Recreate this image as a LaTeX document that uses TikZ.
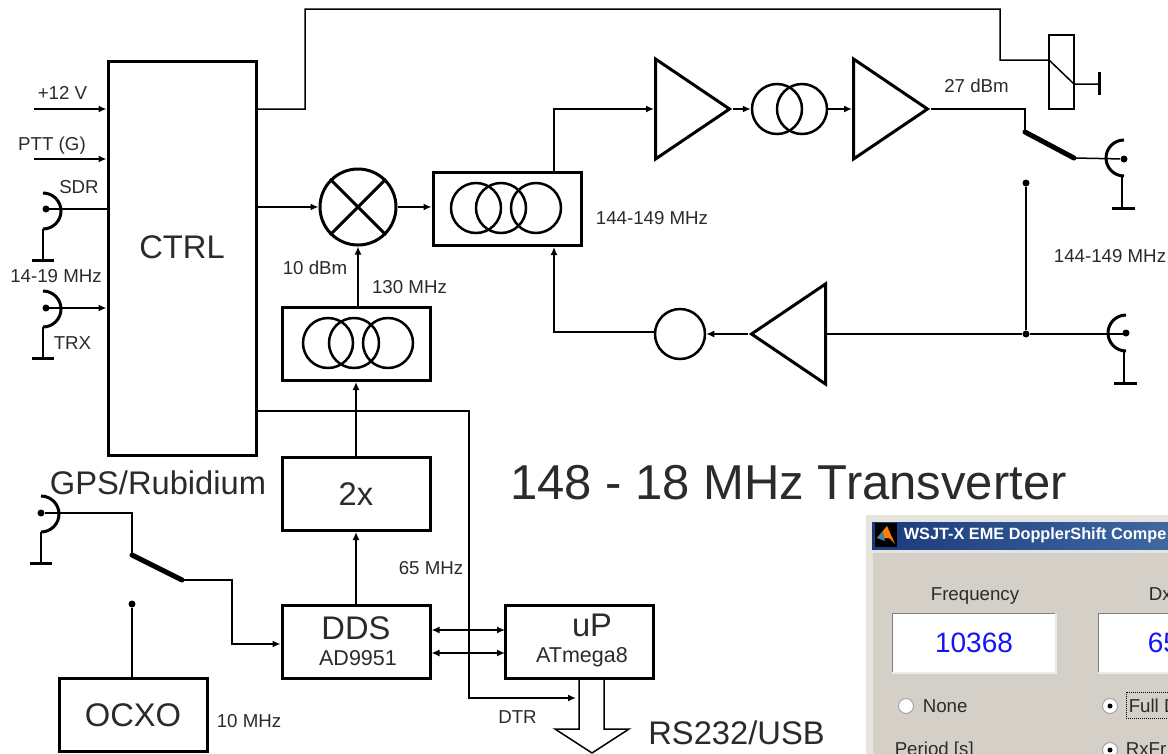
\documentclass[tikz,border=0pt]{standalone}
\usepackage{fontspec}
\setmainfont{Liberation Sans}
\usetikzlibrary{arrows.meta,calc,shapes.geometric}

\definecolor{txt}{HTML}{2B2B2B}
\definecolor{winbody}{HTML}{D4D0C8}
\definecolor{winedge}{HTML}{E6E4DF}
\definecolor{numblue}{HTML}{1414F5}
\definecolor{barl}{HTML}{1B3A7C}
\definecolor{barr}{HTML}{3F68A3}

\tikzset{
  box/.style={draw, line width=3pt, inner sep=0pt, text=txt, minimum width=148pt, minimum height=73pt},
  ring/.style={draw, circle, line width=2.5pt, inner sep=0pt, minimum size=50pt},
  amp/.style={draw, isosceles triangle, isosceles triangle stretches, line width=3pt, inner sep=0pt,
    minimum width=100pt, minimum height=74pt},
  dot/.style={fill, circle, inner sep=0pt, minimum size=7pt},
  lbl/.style={inner sep=0pt, text=txt, font=\fontsize{18.7}{20}\selectfont, text height=13.4pt, text depth=0pt},
  med/.style={inner sep=0pt, text=txt, font=\fontsize{21.5}{23}\selectfont, text height=15.4pt, text depth=0pt},
  big/.style={inner sep=0pt, text=txt, font=\fontsize{32.7}{34}\selectfont, text height=23.4pt, text depth=0pt},
  heavy/.style={-, line width=5pt, line cap=round},
  edit/.style={fill=white, inner sep=0pt, minimum width=162pt, minimum height=58pt, text=numblue,
    font=\fontsize{28}{30}\selectfont},
  radio/.style={circle, fill=white, draw=gray!70, line width=1pt, inner sep=0pt, minimum size=15pt},
  jackl/.pic={\draw[-, line width=3pt] (0,-18) arc[start angle=90, end angle=-90, radius=18pt];
    \draw[-] (0,18) -- (0,49);
    \draw[-, line width=3pt] (-11,49) -- (11,49);},
  jackr/.pic={\draw[-, line width=3pt] (0,-18) arc[start angle=90, end angle=270, radius=18pt];
    \draw[-] (-2,18) -- (-2,50);
    \draw[-, line width=3pt] (-12,50) -- (11,50);},
}

\begin{document}
\begin{tikzpicture}[->, >={Latex[length=8pt,width=7pt]}, x=1pt, y=-1pt, line width=1.5pt]
  \useasboundingbox (0,0) rectangle (1168,753);
  \clip (0,0) rectangle (1168,753);
  \fill[white] (0,0) rectangle (1168,753);

  \node[box,minimum height=394pt] (ctrl) at (182,258) {};
  \node[draw,circle,line width=3pt,inner sep=0pt,minimum size=76pt] (mix) [right of=ctrl, node distance=176pt, yshift=51pt] {};
  \node[box]  (filtb) [right of=mix, node distance=149pt, yshift=-2pt] {};
  \node[box]  (filta) [below of=mix, node distance=137pt, xshift=-2pt] {};
  \node[box]  (dbl)   [below of=filta, node distance=150pt] {\fontsize{32.7}{34}\selectfont 2x};
  \node[box]  (dds)   [below of=dbl, node distance=148pt]   {};
  \node[box]  (up)    [right of=dds, node distance=223pt]   {};
  \node[box]  (ocxo)  at (133,715)                          {\fontsize{32.7}{34}\selectfont OCXO};

  \node[ring] (fb1) at (476,208)                        {};
  \node[ring] (fb2) [right of=fb1, node distance=25pt]  {};
  \node[ring] (fb3) [right of=fb2, node distance=35pt]  {};
  \node[ring] (fa1) at (328,343)                        {};
  \node[ring] (fa2) [right of=fa1, node distance=26pt]  {};
  \node[ring] (fa3) [right of=fa2, node distance=34pt]  {};
  \node[ring] (tx1) at (777,109)                        {};
  \node[ring] (tx2) [right of=tx1, node distance=25pt]  {};
  \node[ring] (rx1) at (680,334)                        {};

  \node[amp,anchor=lower side] (amp1) at (654,109) {};
  \node[amp,anchor=lower side] (amp2) at (852,109) {};
  \node[amp,anchor=lower side,shape border rotate=180] (lna) at (827,334) {};

  \node[draw,line width=1.5pt,inner sep=0pt,minimum width=25pt,minimum height=74pt] (relay) at (1061.5,72) {};

  \node[dot] (jant) at (1124,159) {};
  \node[dot] (jrx)  at (1126,333) {};
  \node[dot] (jsdr) at (46,209)   {};
  \node[dot] (jtrx) at (46,308)   {};
  \node[dot] (jgps) at (41,513)   {};
  \node[dot] (fix)  at (1026,183) {};
  \node[dot] (jun)  at (1026,334) {};
  \node[dot] (ref)  at (132,604)  {};

  \pic at (1124,158) {jackr};
  \pic at (1126,333) {jackr};
  \pic at (43,211)   {jackl};
  \pic at (43,309)   {jackl};
  \pic at (41,514)   {jackl};

  \coordinate (pwr)  at (34,109);
  \coordinate (ptt)  at (34,159);
  \coordinate (tap)  at (554,332);
  \coordinate (tl)   at (305,9);
  \coordinate (tr)   at (1000,60);
  \coordinate (rc)   at (1049,60);
  \coordinate (rd)   at (1074,84);
  \coordinate (rg)   at (1099,84);
  \coordinate (swa)  at (1025,132);
  \coordinate (swb)  at (1074,158);
  \coordinate (gsa)  at (132,555);
  \coordinate (gsb)  at (182,580);
  \coordinate (gc)   at (232,644);
  \coordinate (dtra) at (257,411);
  \coordinate (dtrb) at (469,698);
  \coordinate (dtrc) at (576,698);
  \coordinate (busa) at (505,630);
  \coordinate (busb) at (505,653);
  \coordinate (busl) at (579,729);
  \coordinate (busr) at (604,729);
  \coordinate (tipl) at (555,729);
  \coordinate (tipr) at (629,729);
  \coordinate (tip)  at (592,753);

  \path (pwr)      edge (pwr -| ctrl.west)
        (ptt)      edge (ptt -| ctrl.west)
        (jtrx)     edge (jtrx -| ctrl.west)
        (jsdr)     edge [-] (jsdr -| ctrl.west)
        ([xshift=14pt]jsdr) edge ([xshift=6pt]jsdr)
        ([xshift=14pt]jtrx) edge ([xshift=6pt]jtrx)
        (ctrl.east |- mix) edge (mix.west)
        (mix.east) edge (mix.east -| filtb.west)
        (filta.north -| mix.south) edge (mix.south)
        (dbl)      edge (filta)
        (dds)      edge (dbl)
        (amp1.apex) edge (tx1.west)
        (tx2.east) edge (tx2.east -| amp2.lower side)
        (lna.apex) edge (rx1.east)
        (jun)      edge [-] (fix)
        (jun)      edge [-] (lna.lower side)
        (jun)      edge [-] (jun -| jrx)
        (ref)      edge [-] (ref |- ocxo.north)
        (mix.45)   edge [-,line width=3pt] (mix.225)
        (mix.135)  edge [-,line width=3pt] (mix.315)
        (busa -| dds.east) edge [<->] (busa)
        (busb -| dds.east) edge [<->] (busb)
        ;

  \draw (tap |- filtb.north) |- (amp1.lower side);
  \draw (rx1.west |- tap) -- (tap) -- (tap |- filtb.south);
  \draw[-] (ctrl.east |- pwr) -| (tl) -| (tr) -- (rc) -- (rd) -- (rg);
  \draw[-,line width=3pt] ([yshift=12pt]rg) -- ([yshift=-11pt]rg);
  \draw[-] (amp2.apex) -| (swa);
  \draw[heavy] (swa) -- (swb);
  \draw[-] (swb) -- (jant);
  \draw[-] (jgps) -| (gsa);
  \draw[heavy] (gsa) -- (gsb);
  \draw (gsb) -| (gc) -- (gc -| dds.west);
  \draw (dtra) -| (dtrb) -- (dtrc);
  \draw[-] (up.south) -- (busl) -- (tipl) -- (tip) -- (tipr) -- (busr) -- (busr |- up.south);

  \node[lbl] (lpwr) at (62.5,93)  {+12 V};
  \node[lbl] (lptt) at (52,144)   {PTT (G)};
  \node[lbl] (lsdr) at (79,187)   {SDR};
  \node[lbl] (lhf)  at (56,276)   {14-19 MHz};
  \node[lbl] (ltrx) at (72.5,343) {TRX};
  \node[big] (lctrl) at (182,247) {CTRL};
  \node[lbl] (llo)  at (315,268)  {10 dBm};
  \node[lbl] (lmhz) at (409.5,287) {130 MHz};
  \node[lbl] (lif)  at (652,218)  {144-149 MHz};
  \node[lbl] (lpow) at (976.5,86) {27 dBm};
  \node[lbl] (lrf)  at (1110,256) {144-149 MHz};
  \node[big] (lgps) at (158,483)  {GPS/Rubidium};
  \node[lbl] (ldds) at (431,568)  {65 MHz};
  \node[big] (ldd)  at (356,628)  {DDS};
  \node[med] (lad)  at (358,658)  {AD9951};
  \node[big] (lup)  at (592,625)  {uP};
  \node[med] (lat)  at (582,655)  {ATmega8};
  \node[lbl] (ldtr) at (517.5,717) {DTR};
  \node[lbl] (lten) at (249,721)  {10 MHz};
  \node[big] (lbus) at (736.5,733) {RS232/USB};
  \node[inner sep=0pt,text=txt,font=\fontsize{49}{51}\selectfont,text height=35pt,text depth=0pt] (ltitle) at (788.5,482) {148 - 18 MHz Transverter};

  \fill[winedge] (866,515) rectangle (1170,755);
  \fill[winbody] (873,553) rectangle (1170,755);
  \shade[left color=barl, right color=barr] (872,522) rectangle (1170,549);
  \fill[black] (875,523) rectangle (897,547);
  \fill[orange] (877,538) -- (887,526) -- (895,544) -- (889,538) -- cycle;
  \fill[cyan!60!black] (877,538) -- (883,531) -- (885,541) -- cycle;
  \node[inner sep=0pt,anchor=west,text=white,font=\bfseries\fontsize{16.3}{18}\selectfont] (wtitle) at (903,535) {WSJT-X EME DopplerShift Compe};

  \node[lbl] (lfreq) at (975,594) {Frequency};
  \node[lbl,anchor=west] (ldx) at (1148,594) {Dx};
  \node[edit] (efreq) at (974,643) {10368};
  \node[edit] (edx)   at (1180,643) {};
  \node[inner sep=0pt,anchor=west,text=numblue,font=\fontsize{28}{30}\selectfont] (lsix) at (1147,643) {65};
  \draw[-,gray] (efreq.south west) -- (efreq.north west) -- (efreq.north east);
  \draw[-,white!92!black] (efreq.south west) -- (efreq.south east) -- (efreq.north east);
  \draw[-,gray] (edx.south west) -- (edx.north west) -- (edx.north east);
  \draw[-,white!92!black] (edx.south west) -- (edx.south east);

  \node[radio] (rnone) at (906,706) {};
  \node[radio] (rfull) at (1110,706) {};
  \node[radio] (rxf)   at (1110,750) {};
  \node[dot,minimum size=5pt] (dfull) at (rfull) {};
  \node[dot,minimum size=5pt] (drxf)  at (rxf)   {};
  \node[lbl,anchor=west] (lnone) at (922,706)  {None};
  \node[lbl,anchor=west] (lfull) at (1128,706) {Full D};
  \node[lbl,anchor=base west] (lper) at (894,755)  {Period [s]};
  \node[lbl,anchor=base west] (lrxf) at (1125,755) {RxFr};
  \draw[-,densely dotted,line width=1pt] (1170,692) -| (1126,718) -- (1170,718);
\end{tikzpicture}
\end{document}
